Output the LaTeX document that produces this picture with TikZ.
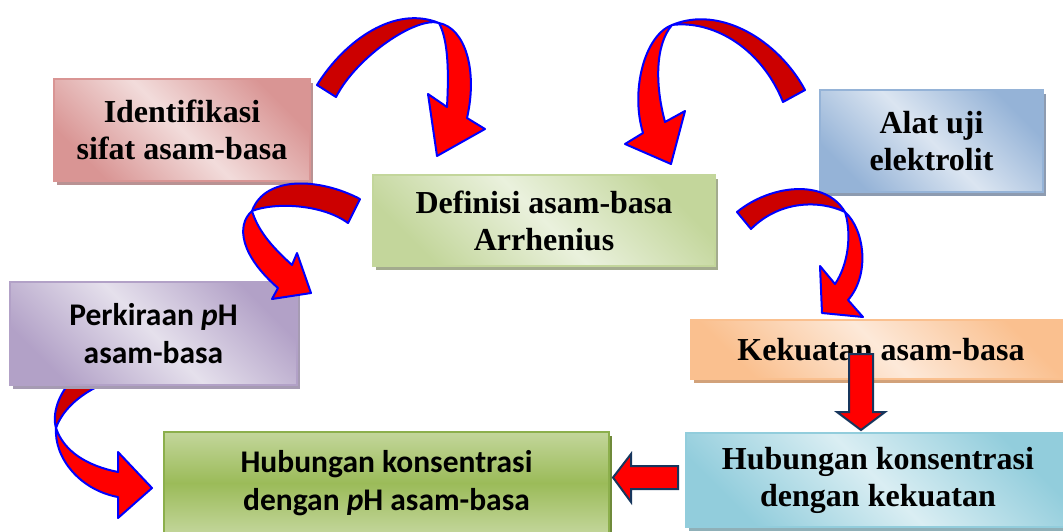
\documentclass[tikz,border=0pt]{standalone}
\usepackage{fontspec}
\setmainfont{Liberation Serif}
\newfontfamily\calibrifont{Carlito}
\usetikzlibrary{shadows}
\definecolor{cd99594}{RGB}{217,149,148}
\definecolor{cf2dcdb}{RGB}{242,220,219}
\definecolor{cb99293}{RGB}{185,146,147}
\definecolor{cc3d69b}{RGB}{195,214,155}
\definecolor{ceaf1dd}{RGB}{234,241,221}
\definecolor{ca3ab8e}{RGB}{163,171,142}
\definecolor{c95b3d7}{RGB}{149,179,215}
\definecolor{cdbe5f1}{RGB}{219,229,241}
\definecolor{c8d9bb0}{RGB}{141,155,176}
\definecolor{cb2a1c7}{RGB}{178,161,199}
\definecolor{ce5e0ec}{RGB}{229,224,236}
\definecolor{ca69bb3}{RGB}{166,155,179}
\definecolor{cfac08f}{RGB}{250,192,143}
\definecolor{cfde9d9}{RGB}{253,233,217}
\definecolor{cd2a27a}{RGB}{210,162,122}
\definecolor{c92cddc}{RGB}{146,205,220}
\definecolor{cdaeef3}{RGB}{218,238,243}
\definecolor{c8fb0b8}{RGB}{143,176,184}
\definecolor{c9bbb59}{RGB}{155,187,89}
\definecolor{c8caf4c}{RGB}{140,175,76}
\definecolor{c6f8a3a}{RGB}{111,138,58}
\definecolor{cff0000}{RGB}{255,0,0}
\definecolor{ccc0000}{RGB}{204,0,0}
\definecolor{c0000ff}{RGB}{0,0,255}
\definecolor{c17365d}{RGB}{23,54,93}
\tikzset{
  box/.style={draw=#1,line width=1.2pt,inner sep=0pt,align=center,
    font=\fontsize{32}{37}\selectfont\bfseries},
  diag/.style 2 args={left color=#1,right color=#1,middle color=#2,shading angle=135},
  boxshadow/.style={drop shadow={shadow xshift=3pt,shadow yshift=-4pt,fill=#1,opacity=1}},
  calibri/.style={font=\fontsize{31.5}{38}\selectfont\calibrifont\bfseries},
  backside/.style={fill=ccc0000,draw=c0000ff,line width=2pt,line join=round},
  frontside/.style={fill=cff0000,draw=c0000ff,line width=2pt,line join=round},
  blockarrow/.style={fill=cff0000,draw=c17365d,line width=2pt,line join=miter}
}

\begin{document}
\begin{tikzpicture}[x=1pt,y=-1pt]
\useasboundingbox (0,0) rectangle (1063,531);

% curved arrow under Perkiraan
\path[backside] (75,378) .. controls (58,392) and (52,415) .. (56,428)
  .. controls (63,408) and (85,388) .. (120,378) -- cycle;
\path[frontside] (56,428) .. controls (54,458) and (80,490) .. (118,497) -- (118,518)
  -- (152,488) -- (118,452) -- (118,472) .. controls (88,466) and (64,452) .. (56,428) -- cycle;

\begin{scope}
\node[box=cd99594,diag={cd99594}{cf2dcdb},boxshadow=cb99293,minimum width=256pt,minimum height=102pt]
  (ident) at (182,130) {Identifikasi\\sifat asam-basa};
\node[box=cc3d69b,diag={cc3d69b}{ceaf1dd},boxshadow=ca3ab8e,minimum width=342pt,minimum height=91pt]
  (defin) at (544,220.5) {Definisi asam-basa\\Arrhenius};
\node[box=c95b3d7,diag={c95b3d7}{cdbe5f1},boxshadow=c8d9bb0,minimum width=223pt,minimum height=102pt]
  (alat) at (931.5,141) {Alat uji\\elektrolit};
\node[box=cb2a1c7,diag={cb2a1c7}{ce5e0ec},boxshadow=ca69bb3,minimum width=287pt,minimum height=103pt,calibri]
  (perk) at (153.5,333.5) {Perkiraan \textit{p}H\\asam-basa};
\node[box=cfac08f,diag={cfac08f}{cfde9d9},boxshadow=cd2a27a,minimum width=380pt,minimum height=59pt]
  (kekuat) at (881,349.5) {Kekuatan asam-basa};
\node[box=c92cddc,diag={c92cddc}{cdaeef3},boxshadow=c8fb0b8,minimum width=384pt,minimum height=94pt]
  (hubk) at (878,480) {Hubungan konsentrasi\\dengan kekuatan};
\node[box=c8caf4c,top color=cc3d69b,bottom color=cc3d69b,middle color=c9bbb59,
  boxshadow=c6f8a3a,minimum width=445pt,minimum height=102pt,calibri]
  (hubph) at (386.5,483) {Hubungan konsentrasi\\dengan \textit{p}H asam-basa};
\end{scope}

% Identifikasi -> Definisi
\path[backside] (317,85) .. controls (345,40) and (395,5) .. (439,23)
  .. controls (417,16) and (357,56) .. (336,97) -- cycle;
\path[frontside] (439,23) .. controls (465,28) and (478,70) .. (467,118) -- (485,129)
  -- (437,156) -- (428,94) -- (447,107) .. controls (449,70) and (448,40) .. (439,23) -- cycle;
% Alat uji -> Definisi
\path[backside] (805,90) .. controls (778,40) and (720,5) .. (672,25)
  .. controls (710,20) and (760,45) .. (783,102) -- cycle;
\path[frontside] (672,25) .. controls (645,35) and (630,90) .. (643,133) -- (625,144)
  -- (671,164) -- (685,111) -- (665,122) .. controls (655,85) and (655,45) .. (672,25) -- cycle;
% Definisi -> Perkiraan
\path[backside] (360,199) .. controls (320,178) and (265,175) .. (252,211)
  .. controls (275,202) and (322,204) .. (348,223) -- cycle;
\path[frontside] (252,211) .. controls (236,225) and (240,255) .. (278,288) -- (272,299)
  -- (311,293) -- (297,253) -- (292,265) .. controls (270,245) and (258,230) .. (252,211) -- cycle;
% Definisi -> Kekuatan
\path[backside] (737,212) .. controls (770,185) and (825,178) .. (845,212)
  .. controls (820,200) and (780,200) .. (751,229) -- cycle;
\path[frontside] (845,212) .. controls (865,230) and (870,275) .. (848,300) -- (863,317)
  -- (822,313) -- (820,266) -- (835,284) .. controls (848,265) and (852,235) .. (845,212) -- cycle;

% straight arrows
\path[blockarrow] (849,354) -- (873,354) -- (873,412) -- (885,412) -- (861,430)
  -- (837,412) -- (849,412) -- cycle;
\path[blockarrow] (678,466) -- (631,466) -- (631,454) -- (613,477.5) -- (631,502)
  -- (631,489) -- (678,489) -- cycle;

\end{tikzpicture}
\end{document}
